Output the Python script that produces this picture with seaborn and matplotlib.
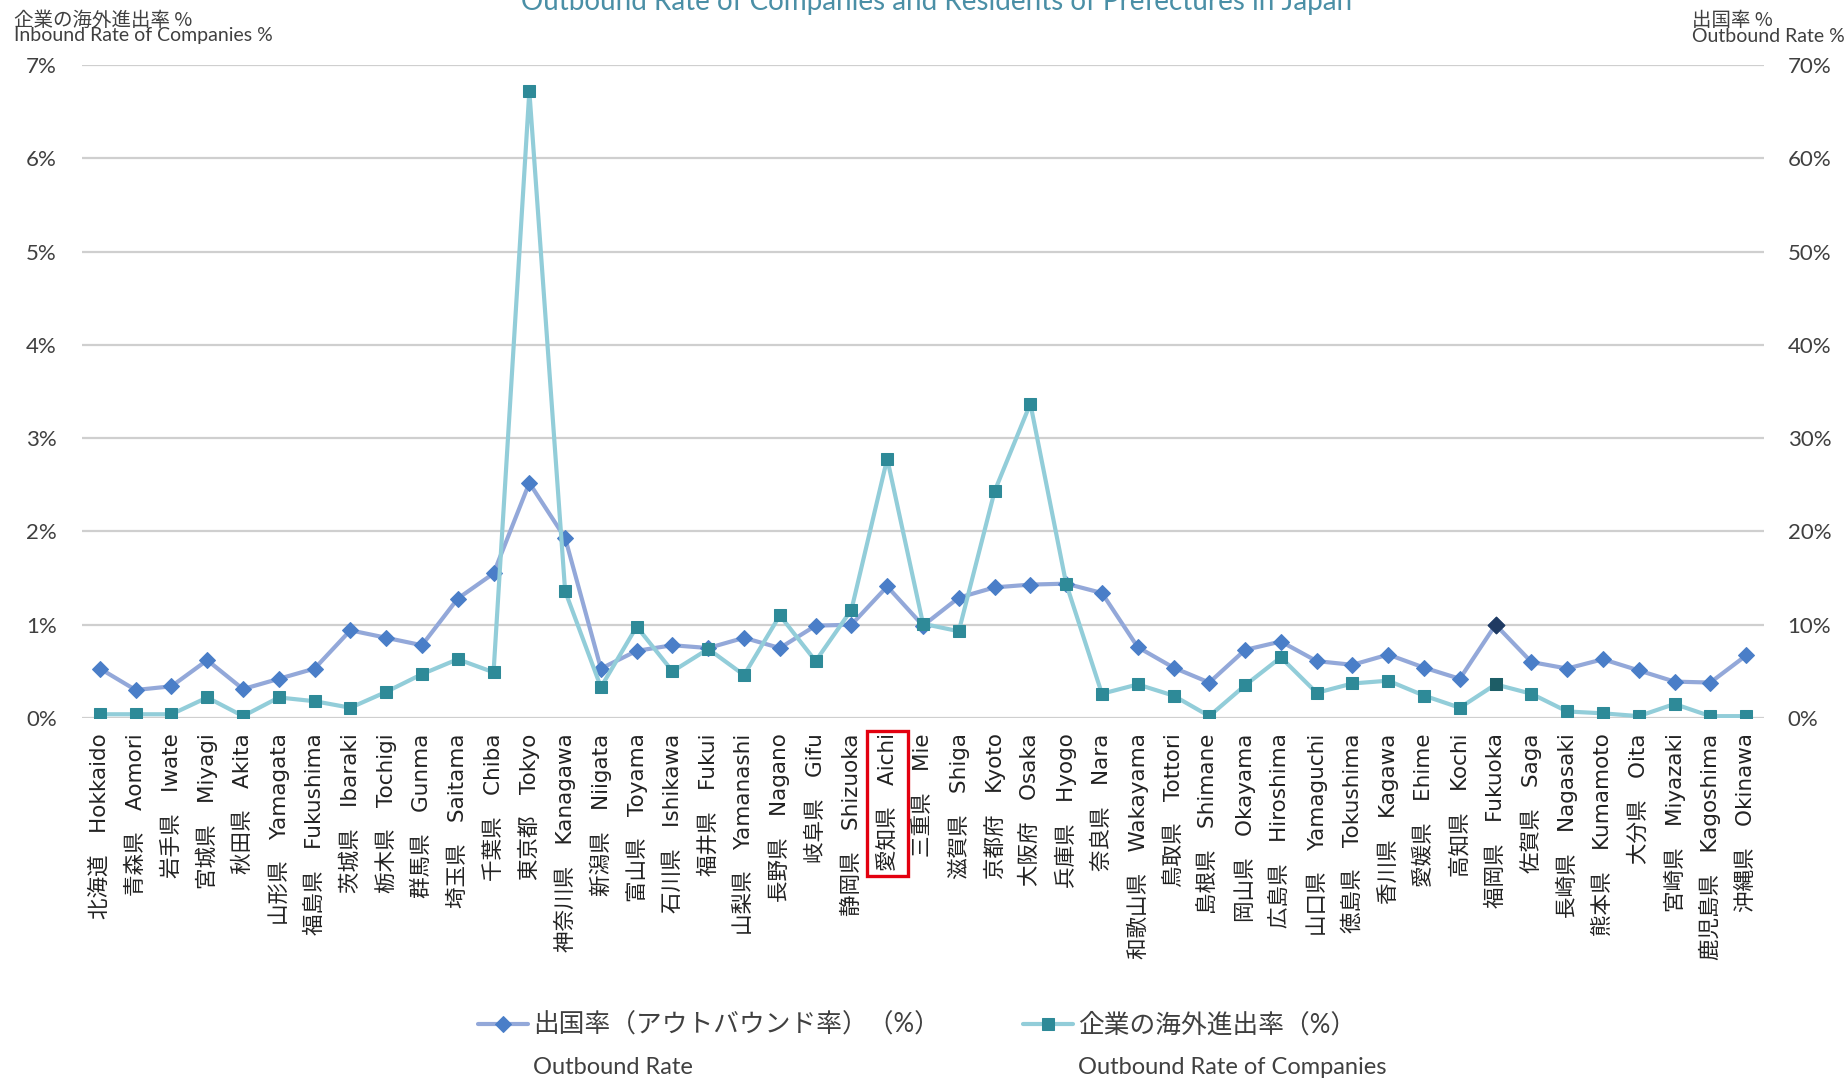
import numpy as np
import pandas as pd
import seaborn as sns
import matplotlib.pyplot as plt
from matplotlib.patches import Rectangle

# Prefecture names (Japanese / English)
prefectures_ja = [
    "北海道", "青森県", "岩手県", "宮城県", "秋田県", "山形県", "福島県",
    "茨城県", "栃木県", "群馬県", "埼玉県", "千葉県", "東京都", "神奈川県",
    "新潟県", "富山県", "石川県", "福井県", "山梨県", "長野県", "岐阜県",
    "静岡県", "愛知県", "三重県", "滋賀県", "京都府", "大阪府", "兵庫県",
    "奈良県", "和歌山県", "鳥取県", "島根県", "岡山県", "広島県", "山口県",
    "徳島県", "香川県", "愛媛県", "高知県", "福岡県", "佐賀県", "長崎県",
    "熊本県", "大分県", "宮崎県", "鹿児島県", "沖縄県",
]
prefectures_en = [
    "Hokkaido", "Aomori", "Iwate", "Miyagi", "Akita", "Yamagata", "Fukushima",
    "Ibaraki", "Tochigi", "Gunma", "Saitama", "Chiba", "Tokyo", "Kanagawa",
    "Niigata", "Toyama", "Ishikawa", "Fukui", "Yamanashi", "Nagano", "Gifu",
    "Shizuoka", "Aichi", "Mie", "Shiga", "Kyoto", "Osaka", "Hyogo",
    "Nara", "Wakayama", "Tottori", "Shimane", "Okayama", "Hiroshima", "Yamaguchi",
    "Tokushima", "Kagawa", "Ehime", "Kochi", "Fukuoka", "Saga", "Nagasaki",
    "Kumamoto", "Oita", "Miyazaki", "Kagoshima", "Okinawa",
]

# Outbound rate of residents (%), right axis
outbound_rate = [
    5.3, 3.0, 3.4, 6.2, 3.1, 4.2, 5.3,
    9.4, 8.6, 7.8, 12.8, 15.5, 25.2, 19.3,
    5.3, 7.2, 7.8, 7.5, 8.6, 7.5, 9.9,
    10.0, 14.1, 9.9, 12.9, 14.0, 14.3, 14.4,
    13.4, 7.6, 5.4, 3.8, 7.3, 8.2, 6.1,
    5.7, 6.8, 5.4, 4.2, 10.0, 6.0, 5.3,
    6.3, 5.1, 3.9, 3.8, 6.7,
]

# Overseas expansion rate of companies (%), left axis
company_rate = [
    0.04, 0.04, 0.04, 0.22, 0.02, 0.22, 0.18,
    0.11, 0.28, 0.47, 0.63, 0.49, 6.72, 1.36,
    0.33, 0.98, 0.50, 0.74, 0.46, 1.10, 0.61,
    1.16, 2.78, 1.01, 0.93, 2.43, 3.37, 1.44,
    0.26, 0.36, 0.24, 0.02, 0.35, 0.65, 0.27,
    0.37, 0.40, 0.24, 0.11, 0.36, 0.26, 0.07,
    0.05, 0.02, 0.15, 0.02, 0.02,
]

left_tick_labels = ["0%", "1%", "2%", "3%", "4%", "5%", "6%", "7%"]
right_tick_labels = ["0%", "10%", "20%", "30%", "40%", "50%", "60%", "70%"]

highlight_pref = "福岡県"
boxed_pref = "愛知県"

title = "Outbound Rate of Companies and Residents of Prefectures in Japan"
legend_ja = ["出国率（アウトバウンド率）（%）", "企業の海外進出率（%）"]
legend_en = ["Outbound Rate", "Outbound Rate of Companies"]

# Colours
DIA_LINE, DIA_MARK, DIA_HI = "#93a8d9", "#4a7ec8", "#1f3a62"
SQ_LINE, SQ_MARK, SQ_HI = "#92cdd9", "#2e8a98", "#1d5d66"
TEXT = "#404040"

sns.set_style("white")
plt.rcParams["font.family"] = ["Lato", "Noto Sans CJK JP"]

df = pd.DataFrame({
    "ja": prefectures_ja,
    "label": [f"{j}\u3000{e}" for j, e in zip(prefectures_ja, prefectures_en)],
    "outbound": outbound_rate,
    "company": company_rate,
})

fig = plt.figure(figsize=(18.47, 10.79), dpi=100)
ax = fig.add_axes([82 / 1847, 1 - 718 / 1079, (1764 - 82) / 1847, (718 - 65) / 1079])
ax2 = ax.twinx()

# Outbound rate of residents on the right axis
sns.lineplot(data=df, x="label", y="outbound", ax=ax2, sort=False,
             color=DIA_LINE, linewidth=3, marker="D", markersize=8,
             markerfacecolor=DIA_MARK, markeredgecolor=DIA_MARK)
dia_line = ax2.lines[-1]
hi = df[df["ja"] == highlight_pref]
sns.scatterplot(data=hi, x="label", y="outbound", ax=ax2, marker="D",
                s=75, color=DIA_HI, edgecolor=DIA_HI, zorder=5)

# Company expansion rate on the left axis (drawn above)
sns.lineplot(data=df, x="label", y="company", ax=ax, sort=False,
             color=SQ_LINE, linewidth=3, marker="s", markersize=8,
             markerfacecolor=SQ_MARK, markeredgecolor=SQ_MARK)
sq_line = ax.lines[-1]
sns.scatterplot(data=hi, x="label", y="company", ax=ax, marker="s",
                s=70, color=SQ_HI, edgecolor=SQ_HI, zorder=5)

ax.set_zorder(ax2.get_zorder() + 1)
ax.patch.set_visible(False)

n = len(df)
ax.set_xlim(-0.5, n - 0.5)
ax.set_ylim(0, len(left_tick_labels) - 1)
ax2.set_ylim(0, 10 * (len(right_tick_labels) - 1))
ax.set_yticks(range(len(left_tick_labels)))
ax.set_yticklabels(left_tick_labels)
ax2.set_yticks([10 * i for i in range(len(right_tick_labels))])
ax2.set_yticklabels(right_tick_labels)

ax2.grid(axis="y", color="#cfcfcf", linewidth=1.6)
ax2.grid(axis="x", visible=False)
ax.grid(False)
ax2.set_axisbelow(True)

for a in (ax, ax2):
    for s in a.spines.values():
        s.set_visible(False)
    a.set_xlabel("")
    a.set_ylabel("")

ax.tick_params(axis="y", length=0, pad=18, labelsize=16, labelcolor=TEXT)
ax2.tick_params(axis="y", length=0, pad=17, labelsize=16, labelcolor=TEXT)
ax.tick_params(axis="x", length=0, pad=11)
ax.set_xticks(range(n))
ax.set_xticklabels(df["label"], rotation=90, fontsize=15.5, color="#222222",
                   family=["DejaVu Sans", "Noto Sans CJK JP"], va="top", ha="center")

# Axis captions
fig.text(14 / 1847, 1 - 20 / 1079, "企業の海外進出率 %", fontsize=14, color=TEXT,
         va="center", ha="left", family=["Noto Sans CJK JP"])
fig.text(14 / 1847, 1 - 36 / 1079, "Inbound Rate of Companies %", fontsize=14,
         color=TEXT, va="center", ha="left")
fig.text(1692 / 1847, 1 - 20 / 1079, "出国率 %", fontsize=14, color=TEXT,
         va="center", ha="left", family=["Noto Sans CJK JP"])
fig.text(1692 / 1847, 1 - 36 / 1079, "Outbound Rate %", fontsize=14,
         color=TEXT, va="center", ha="left")

# Title (sits partly above the top edge)
fig.text(0.507, 1 - 10 / 1079, title, fontsize=20, color="#4a8fa6",
         ha="center", va="baseline")

# Legend
leg = fig.legend(handles=[dia_line, sq_line], labels=legend_ja, loc="center",
                 bbox_to_anchor=(0.4965, 1 - 1025 / 1079), ncol=2, frameon=False,
                 fontsize=18.5, handlelength=1.95, handletextpad=0.2,
                 columnspacing=3.2, labelcolor=TEXT)

fig.canvas.draw()
renderer = fig.canvas.get_renderer()
inv = fig.transFigure.inverted()

for txt, en in zip(leg.get_texts(), legend_en):
    bb = txt.get_window_extent(renderer)
    x0, _ = inv.transform((bb.x0, 0))
    fig.text(x0, 12 / 1079, en, fontsize=17, color=TEXT, ha="left", va="center")

# Red frame around the Aichi tick label
idx = prefectures_ja.index(boxed_pref)
bb = ax.get_xticklabels()[idx].get_window_extent(renderer)
pad_x, pad_top, pad_bot = 10, 2, 5
(fx0, fy0) = inv.transform((bb.x0 - pad_x, bb.y0 - pad_bot))
(fx1, fy1) = inv.transform((bb.x1 + pad_x, bb.y1 + pad_top))
fig.add_artist(Rectangle((fx0, fy0), fx1 - fx0, fy1 - fy0, transform=fig.transFigure,
                         fill=False, edgecolor="#e3000f", linewidth=2.4, zorder=10))

fig.savefig("out.png", dpi=100)
